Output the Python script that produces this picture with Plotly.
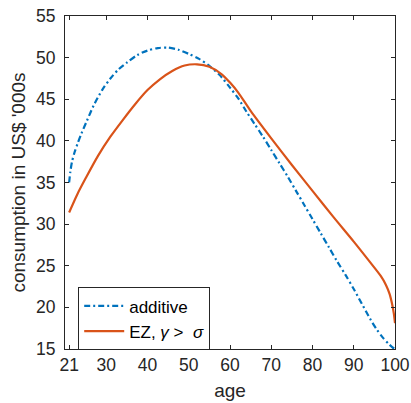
import plotly.graph_objects as go

age_additive = [21.0, 21.3, 21.7, 22.3, 23.0, 24.0, 25.3, 27.0, 29.0, 31.0, 33.0, 35.0, 37.5, 40.0,
                42.5, 45.0, 47.5, 50.0, 52.5, 55.0, 57.5, 60.0, 62.0, 64.0, 66.0, 68.0, 70.0, 72.0,
                74.0, 76.0, 78.0, 80.0, 82.0, 84.0, 86.0, 88.0, 90.0, 92.0, 94.0, 95.5, 97.0, 98.5, 99.5, 100.0]
cons_additive = [35.0, 36.3, 37.5, 38.6, 39.6, 40.9, 42.4, 44.3, 46.1, 47.5, 48.6, 49.4, 50.3, 50.85,
                 51.15, 51.2, 50.95, 50.45, 49.85, 49.0, 47.9, 46.4, 45.1, 43.5, 42.0, 40.5, 38.9, 37.3,
                 35.7, 34.0, 32.3, 30.6, 28.9, 27.2, 25.5, 23.9, 22.2, 20.4, 18.6, 17.4, 16.4, 15.6, 15.15, 15.0]

age_ez = [21.0, 23.0, 25.0, 28.0, 31.0, 34.0, 37.0, 40.0, 43.0, 46.0, 49.0, 52.0, 55.0, 58.0, 60.0,
          62.0, 65.0, 70.0, 75.0, 80.0, 85.0, 90.0, 94.0, 96.5, 97.8, 98.7, 99.3, 99.7, 100.0]
cons_ez = [31.4, 33.6, 35.5, 38.2, 40.5, 42.5, 44.4, 46.1, 47.4, 48.4, 49.05, 49.2, 48.9, 48.0, 47.0,
           45.8, 43.6, 40.3, 37.1, 34.0, 30.9, 27.9, 25.4, 23.8, 22.7, 21.6, 20.4, 19.3, 18.1]

x_ticks = [21, 30, 40, 50, 60, 70, 80, 90, 100]
y_ticks = [15, 20, 25, 30, 35, 40, 45, 50, 55]

fig = go.Figure()
fig.add_trace(go.Scatter(x=age_additive, y=cons_additive, mode="lines", name="additive",
                         line=dict(color="#0072BD", width=2.2, dash="6px,3px,2px,3px", shape="spline", smoothing=0.8)))
fig.add_trace(go.Scatter(x=age_ez, y=cons_ez, mode="lines", name="EZ, <i>γ</i> >  <i>σ</i>",
                         line=dict(color="#D95319", width=2.2, shape="spline", smoothing=0.8)))

FONT = "Liberation Sans, Arial, sans-serif"
axis_common = dict(showline=True, linecolor="#262626", linewidth=1, mirror="allticks",
                   ticks="inside", ticklen=4, tickcolor="#262626", showgrid=False, zeroline=False,
                   automargin=False,
                   tickfont=dict(family=FONT, size=17.5, color="#262626"))

fig.update_layout(
    width=411, height=403,
    margin=dict(l=65, r=16, t=16, b=54),
    paper_bgcolor="white", plot_bgcolor="white",
    font=dict(family=FONT, size=17.5, color="#262626"),
    xaxis=dict(range=[20, 100], tickvals=x_ticks, ticktext=[str(v) for v in x_ticks],
               title=dict(text="age", standoff=9, font=dict(size=19)), **axis_common),
    yaxis=dict(range=[15, 55], tickvals=y_ticks, ticktext=[str(v) for v in y_ticks],
               ticklabelstandoff=5,
               title=dict(text="consumption in US$ '000s", standoff=5, font=dict(size=19)), **axis_common),
    legend=dict(x=0.04, y=0.185, xanchor="left", yanchor="top", bgcolor="white",
                bordercolor="#262626", borderwidth=1, font=dict(size=17, color="#000000"),
                itemwidth=40, tracegroupgap=0),
    showlegend=True,
)

fig.write_html("out.html")
